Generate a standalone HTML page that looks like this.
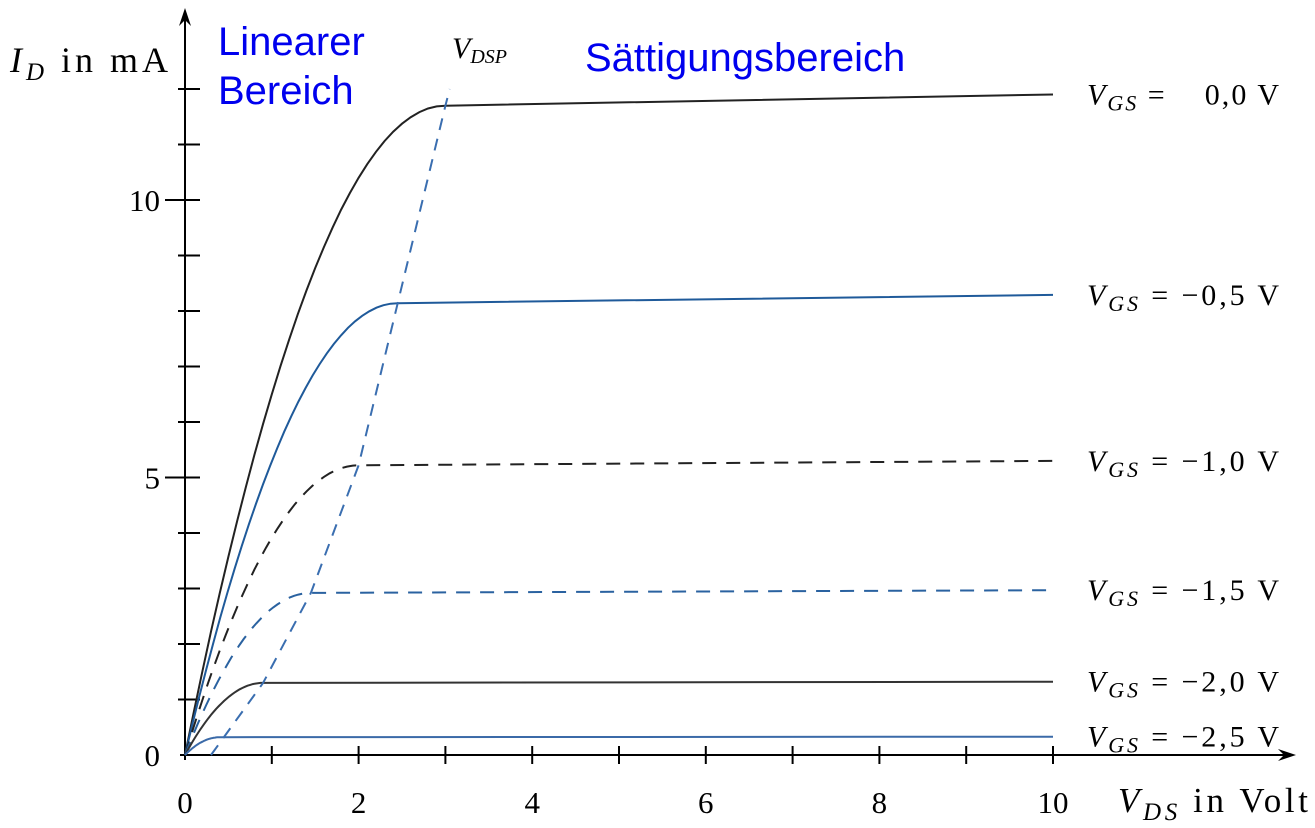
<!DOCTYPE html>
<html><head><meta charset="utf-8"><style>
body{margin:0;background:#fff;}
svg{display:block;}
.serif{font-family:"Liberation Serif",serif;}
</style></head><body>
<svg id="c" width="1315" height="828" xmlns="http://www.w3.org/2000/svg">
</svg>
<script>
const vgsLabels=["0,0","\u22120,5","\u22121,0","\u22121,5","\u22122,0","\u22122,5"];
const satV=[3.0,2.45,2.0,1.45,0.9,0.4];
const satI=[11.7,8.14,5.22,2.92,1.30,0.32];
const endI=[11.9,8.29,5.30,2.97,1.32,0.33];
const colors=["#222","#1f5a9a","#222","#2a62a0","#333","#3b6aa8"];
const dashed=[false,false,true,true,false,false];
const xTickLabels=[0,2,4,6,8,10];
const yTickLabels=[0,5,10];
const vdspV=[0.3,0.9,1.45,2.0,2.45,3.0,3.05];
const vdspI=[0,1.3,2.92,5.22,8.14,11.7,12.0];

const svg=document.getElementById('c');
const NS="http://www.w3.org/2000/svg";
const X=v=>185+v*86.8;
const Y=i=>755-i*55.5;
function mk(t,a,p){const e=document.createElementNS(NS,t);for(const k in a)e.setAttribute(k,a[k]);(p||svg).appendChild(e);return e;}

let ax=mk('g',{});


mk('line',{x1:185,y1:760,x2:185,y2:14,stroke:'#000','stroke-width':2},ax);
mk('path',{d:'M179,26 L185,8 L191,26 L185,20 Z',fill:'#000'},ax);
mk('line',{x1:180,y1:755,x2:1290,y2:755,stroke:'#000','stroke-width':2},ax);
mk('path',{d:'M1278,749 L1296,755 L1278,761 L1284,755 Z',fill:'#000'},ax);
for(let v=1;v<=10;v++){mk('line',{x1:X(v),y1:746,x2:X(v),y2:764,stroke:'#000','stroke-width':2},ax);}
for(let i=1;i<=12;i++){const maj=(i%5==0);mk('line',{x1:maj?165:178,y1:Y(i),x2:200,y2:Y(i),stroke:'#000','stroke-width':2},ax);}
xTickLabels.forEach(v=>{const t=mk('text',{x:X(v),y:813,'text-anchor':'middle','font-size':31,class:'serif'});t.textContent=v;

});
yTickLabels.forEach(v=>{const t=mk('text',{x:160,y:Y(v)+11,'text-anchor':'end','font-size':31,class:'serif'});t.textContent=v;

});

satV.forEach((vp,k)=>{
  const pts=[];
  for(let s=0;s<=30;s++){const v=vp*s/30;const r=1-v/vp;pts.push([X(v),Y(satI[k]*(1-r*r))]);}
  pts.push([X(10),Y(endI[k])]);
  const p=mk('path',{d:'M'+pts.map(p=>p[0].toFixed(1)+','+p[1].toFixed(1)).join(' L'),fill:'none',stroke:colors[k],'stroke-width':2,'stroke-dasharray':dashed[k]?'14,10':'none'});
  
  
  const t=mk('text',{x:1087,y:Y(endI[k])+10,'font-size':30,class:'serif',textLength:192,lengthAdjust:'spacing'});
  t.innerHTML='<tspan font-style="italic">V</tspan><tspan font-style="italic" font-size="22" dy="6">GS</tspan><tspan dy="-6"> = '+(k==0?'&#160;&#160;&#160;':'')+vgsLabels[k]+' V</tspan>';
  
  
});
const vp=mk('path',{d:'M'+vdspV.map((v,i)=>X(v).toFixed(1)+','+Y(vdspI[i]).toFixed(1)).join(' L'),fill:'none',stroke:'#3a6eb0','stroke-width':2,'stroke-dasharray':'12,9'});



let t=mk('text',{x:10,y:72,'font-size':36,class:'serif',textLength:158,lengthAdjust:'spacing'});
t.innerHTML='<tspan font-style="italic">I</tspan><tspan font-style="italic" font-size="25" dy="8">D</tspan><tspan dy="-8"> in mA</tspan>';


t=mk('text',{x:1118,y:812,'font-size':35,class:'serif',textLength:190,lengthAdjust:'spacing'});
t.innerHTML='<tspan font-style="italic">V</tspan><tspan font-style="italic" font-size="25" dy="8">DS</tspan><tspan dy="-8"> in Volt</tspan>';


t=mk('text',{x:452,y:58,'font-size':30,class:'serif'});
t.innerHTML='<tspan font-style="italic">V</tspan><tspan font-style="italic" font-size="20" dy="5">DSP</tspan>';


[['Linearer',218,55],['Bereich',218,104],['Sättigungsbereich',585,71]].forEach(a=>{
  const e=mk('text',{x:a[1],y:a[2],'font-size':40,fill:'#0000ee','font-family':'Liberation Sans, sans-serif'});e.textContent=a[0];
  
  
});
</script>
</body></html>
